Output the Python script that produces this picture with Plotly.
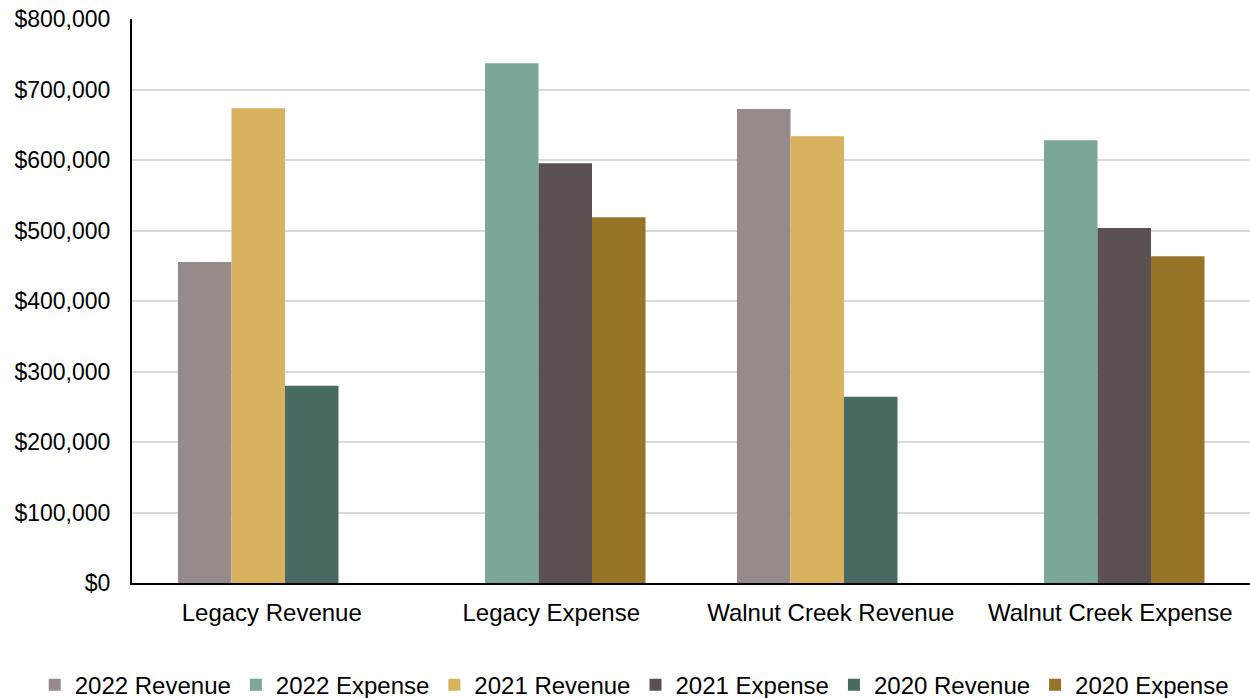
import plotly.graph_objects as go

categories = ["Legacy Revenue", "Legacy Expense", "Walnut Creek Revenue", "Walnut Creek Expense"]

series_names = ["2022 Revenue", "2022 Expense", "2021 Revenue", "2021 Expense", "2020 Revenue", "2020 Expense"]
rev_2022 = [455300, None, 672300, None]
exp_2022 = [None, 737200, None, 627900]
rev_2021 = [673300, None, 633600, None]
exp_2021 = [None, 595300, None, 503500]
rev_2020 = [279900, None, 264300, None]
exp_2020 = [None, 518700, None, 463400]

series_values = [rev_2022, exp_2022, rev_2021, exp_2021, rev_2020, exp_2020]
colors = ["#968B89", "#7BA79B", "#D8B25E", "#5C5152", "#496A62", "#977425"]
offsets = [-0.3354, -0.2370, -0.1440, -0.0456, 0.0474, 0.1458]
bar_w = 0.1914

FONT = "Liberation Sans, Arial, sans-serif"

fig = go.Figure()
for name, vals, col, off in zip(series_names, series_values, colors, offsets):
    fig.add_trace(go.Bar(
        x=categories, y=vals, name=name,
        marker=dict(color=col, line=dict(width=0)),
        offset=off, width=bar_w,
    ))

fig.update_layout(
    width=1250, height=698,
    margin=dict(l=132, r=0, t=19, b=115, autoexpand=False),
    barmode="overlay",
    plot_bgcolor="white", paper_bgcolor="white",
    font=dict(family=FONT, size=24, color="#000000"),
    showlegend=True,
    legend=dict(
        orientation="h",
        x=-0.087, xanchor="left", y=-0.181, yanchor="middle",
        font=dict(size=24), itemwidth=30, traceorder="normal",
    ),
    xaxis=dict(
        type="category", range=[-0.5, 3.5],
        showline=True, linecolor="black", linewidth=2,
        showgrid=False, ticks="", ticklabelstandoff=7,
        tickfont=dict(size=24),
    ),
    yaxis=dict(
        range=[0, 800000], dtick=100000, tickformat="$,.0f",
        showline=True, linecolor="black", linewidth=2,
        showgrid=True, gridcolor="#D9D9D9", gridwidth=1.5,
        ticks="", ticklabelstandoff=15, zeroline=False,
        tickfont=dict(size=23),
    ),
)

fig.write_html("out.html")
